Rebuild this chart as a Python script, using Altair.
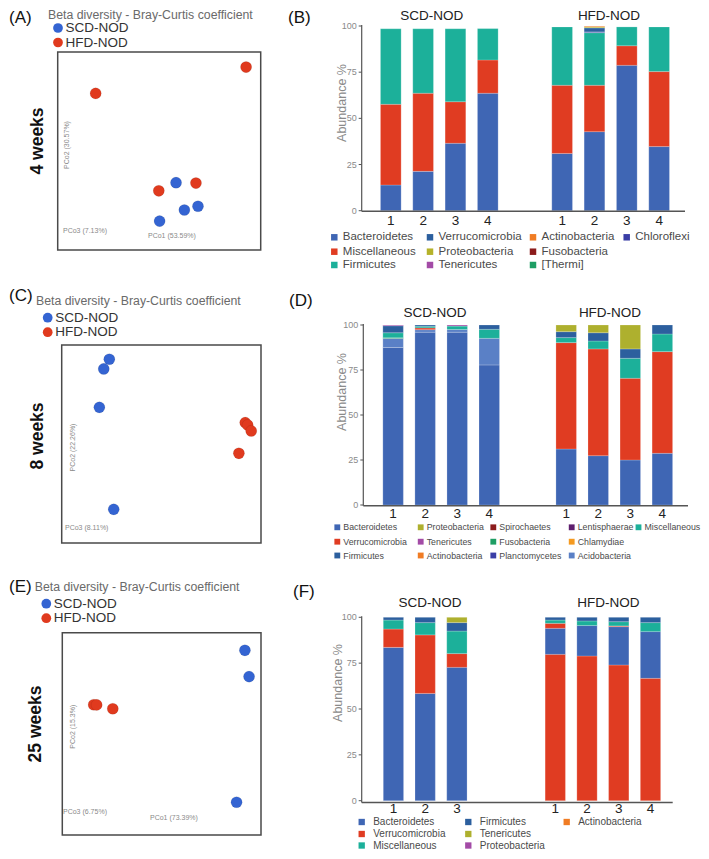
import altair as alt
import pandas as pd

FONT = "Liberation Sans"
M = 8  # page margin


def px(v):
    return v - M


DUMMY = alt.Data(values=[{"k": 0}])

# ---------------- data ----------------
GROUPS = ["SCD-NOD", "HFD-NOD"]
GROUP_COLORS = {"SCD-NOD": "#3464d2", "HFD-NOD": "#e03a1e"}

# PCoA coordinates (PCo1, PCo2), in % of the plotted box extent
A_GROUP = ["HFD-NOD", "HFD-NOD", "SCD-NOD", "HFD-NOD", "HFD-NOD", "SCD-NOD", "SCD-NOD", "SCD-NOD"]
A_PC1 = [18.7, 92.8, 58.3, 68.1, 49.8, 69.1, 62.4, 50.2]
A_PC2 = [79.1, 92.4, 34.0, 33.8, 29.9, 22.1, 20.2, 14.6]

C_GROUP = ["SCD-NOD", "SCD-NOD", "SCD-NOD", "HFD-NOD", "HFD-NOD", "HFD-NOD", "HFD-NOD", "SCD-NOD"]
C_PC1 = [23.9, 21.1, 18.9, 92.1, 93.3, 95.1, 88.9, 26.1]
C_PC2 = [92.8, 87.9, 68.5, 60.8, 59.6, 56.6, 45.3, 17.0]

E_GROUP = ["SCD-NOD", "SCD-NOD", "HFD-NOD", "HFD-NOD", "HFD-NOD", "SCD-NOD"]
E_PC1 = [91.9, 94.0, 15.8, 17.3, 25.4, 87.7]
E_PC2 = [91.3, 78.3, 64.4, 64.3, 62.4, 16.2]

# relative abundance (%) per sample, bottom -> top
B_SCD = [
    [("Bacteroidetes", 13.9), ("Miscellaneous", 43.7), ("Firmicutes", 40.9)],
    [("Bacteroidetes", 21.3), ("Miscellaneous", 42.3), ("Firmicutes", 34.9)],
    [("Bacteroidetes", 36.5), ("Miscellaneous", 22.5), ("Firmicutes", 39.5)],
    [("Bacteroidetes", 63.6), ("Miscellaneous", 18.0), ("Firmicutes", 17.0)],
]
B_HFD = [
    [("Bacteroidetes", 31.0), ("Miscellaneous", 36.9), ("Firmicutes", 31.6)],
    [("Bacteroidetes", 42.8), ("Miscellaneous", 25.1), ("Firmicutes", 28.5), ("Chloroflexi", 0.4),
     ("Verrucomicrobia", 2.2), ("Proteobacteria", 0.5), ("Actinobacteria", 0.4)],
    [("Bacteroidetes", 78.7), ("Miscellaneous", 10.6), ("Firmicutes", 10.2)],
    [("Bacteroidetes", 34.7), ("Miscellaneous", 40.6), ("Firmicutes", 24.2)],
]

D_SCD = [
    [("Bacteroidetes", 87.5), ("Acidobacteria", 5.0), ("Fusobacteria", 0.4), ("Miscellaneous", 2.8),
     ("Firmicutes", 3.9), ("Tenericutes", 0.4)],
    [("Bacteroidetes", 96.0), ("Acidobacteria", 1.4), ("Verrucomicrobia", 1.0), ("Miscellaneous", 0.9),
     ("Firmicutes", 0.7)],
    [("Bacteroidetes", 96.0), ("Acidobacteria", 1.5), ("Miscellaneous", 1.9), ("Tenericutes", 0.6)],
    [("Bacteroidetes", 77.8), ("Acidobacteria", 14.8), ("Miscellaneous", 5.0), ("Firmicutes", 2.4)],
]
D_HFD = [
    [("Bacteroidetes", 31.1), ("Verrucomicrobia", 59.1), ("Miscellaneous", 2.8), ("Firmicutes", 3.3),
     ("Proteobacteria", 3.7)],
    [("Bacteroidetes", 27.4), ("Verrucomicrobia", 59.3), ("Miscellaneous", 4.4), ("Firmicutes", 4.6),
     ("Proteobacteria", 4.3)],
    [("Bacteroidetes", 25.0), ("Verrucomicrobia", 45.4), ("Miscellaneous", 11.1), ("Firmicutes", 5.2),
     ("Proteobacteria", 13.3)],
    [("Bacteroidetes", 28.7), ("Verrucomicrobia", 56.5), ("Miscellaneous", 9.8), ("Firmicutes", 5.0)],
]

F_SCD = [
    [("Bacteroidetes", 83.6), ("Verrucomicrobia", 10.0), ("Miscellaneous", 4.9), ("Firmicutes", 1.5)],
    [("Bacteroidetes", 58.5), ("Verrucomicrobia", 31.9), ("Miscellaneous", 6.7), ("Firmicutes", 2.9)],
    [("Bacteroidetes", 72.7), ("Verrucomicrobia", 7.5), ("Miscellaneous", 12.3), ("Firmicutes", 4.6),
     ("Tenericutes", 2.9)],
]
F_HFD = [
    [("Verrucomicrobia", 79.8), ("Bacteroidetes", 14.2), ("Verrucomicrobia", 2.7), ("Miscellaneous", 1.8),
     ("Firmicutes", 1.5)],
    [("Verrucomicrobia", 78.9), ("Bacteroidetes", 16.6), ("Miscellaneous", 2.5), ("Firmicutes", 2.0)],
    [("Verrucomicrobia", 74.0), ("Bacteroidetes", 20.9), ("Verrucomicrobia", 0.4), ("Miscellaneous", 2.3),
     ("Firmicutes", 2.4)],
    [("Verrucomicrobia", 66.7), ("Bacteroidetes", 25.5), ("Miscellaneous", 4.9), ("Firmicutes", 2.9)],
]

SAMPLE_LABELS = ["1", "2", "3", "4"]

B_LEGEND = ["Bacteroidetes", "Miscellaneous", "Firmicutes", "Verrucomicrobia", "Proteobacteria",
            "Tenericutes", "Actinobacteria", "Fusobacteria", "[Thermi]", "Chloroflexi"]
D_LEGEND = ["Bacteroidetes", "Verrucomicrobia", "Firmicutes", "Proteobacteria", "Tenericutes",
            "Actinobacteria", "Spirochaetes", "Fusobacteria", "Planctomycetes", "Lentisphaerae",
            "Chlamydiae", "Acidobacteria", "Miscellaneous"]
F_LEGEND = ["Bacteroidetes", "Verrucomicrobia", "Miscellaneous", "Firmicutes", "Tenericutes",
            "Proteobacteria", "Actinobacteria"]

# ---------------- styles ----------------
B_COLORS = {"Bacteroidetes": "#3f66b4", "Miscellaneous": "#e03c22", "Firmicutes": "#1cb09a",
            "Verrucomicrobia": "#2c5f9e", "Proteobacteria": "#b5b22a", "Tenericutes": "#a34ba6",
            "Actinobacteria": "#f07c24", "Fusobacteria": "#8c1c1c", "[Thermi]": "#1e9e64",
            "Chloroflexi": "#3a3ea6"}
D_COLORS = {"Bacteroidetes": "#3f66b4", "Verrucomicrobia": "#e03c22", "Firmicutes": "#2c5f9e",
            "Proteobacteria": "#aeb02e", "Tenericutes": "#a34ba6", "Actinobacteria": "#f07c24",
            "Spirochaetes": "#8c1c1c", "Fusobacteria": "#1e9e64", "Planctomycetes": "#3a3ea6",
            "Lentisphaerae": "#5e1f6e", "Chlamydiae": "#f59a20", "Acidobacteria": "#5a80c6",
            "Miscellaneous": "#1cb09a"}
F_COLORS = {"Bacteroidetes": "#3f66b4", "Verrucomicrobia": "#e03c22", "Miscellaneous": "#1cb09a",
            "Firmicutes": "#2c5f9e", "Tenericutes": "#aeb02e", "Proteobacteria": "#a34ba6",
            "Actinobacteria": "#f07c24"}


def txt(x, y, s, size=12, color="#222", align="left", angle=None, weight="normal", font=FONT):
    kw = dict(text=s, fontSize=size, color=color, align=align, baseline="middle", font=font,
              fontWeight=weight)
    if angle is not None:
        kw["angle"] = angle
    return alt.Chart(DUMMY).mark_text(**kw).encode(x=alt.value(px(x)), y=alt.value(px(y)))


def scatter_panel(letter, letter_xy, title_xy, leg_xy, box, group, pc1, pc2, weeks_xy, weeks, pco_labels):
    layers = []
    layers.append(txt(letter_xy[0], letter_xy[1], letter, size=17, color="#111"))
    layers.append(txt(title_xy[0], title_xy[1], "Beta diversity - Bray-Curtis coefficient", size=12.3,
                      color="#6a6a6a"))
    # legend
    ldf = pd.DataFrame({"label": GROUPS})
    ldf["lx"] = px(leg_xy[0])
    ldf["ly"] = [px(leg_xy[1] + i * 14.5) for i in range(len(GROUPS))]
    ldf["tx"] = px(leg_xy[0] + 7.5)
    ldf["hex"] = ldf["label"].map(GROUP_COLORS)
    layers.append(alt.Chart(ldf).mark_circle(size=95, opacity=1).encode(
        x=alt.X("lx:Q", scale=None), y=alt.Y("ly:Q", scale=None), color=alt.Color("hex:N", scale=None)))
    layers.append(alt.Chart(ldf).mark_text(align="left", baseline="middle", fontSize=13.5, color="#333",
                                           font=FONT).encode(
        x=alt.X("tx:Q", scale=None), y=alt.Y("ly:Q", scale=None), text="label:N"))
    # frame
    layers.append(alt.Chart(DUMMY).mark_rect(fillOpacity=0, stroke="#4a4a4a", strokeWidth=1.5).encode(
        x=alt.value(px(box[0])), x2=alt.value(px(box[2])), y=alt.value(px(box[1])), y2=alt.value(px(box[3]))))
    # points
    df = pd.DataFrame({"group": group, "pc1": pc1, "pc2": pc2})
    df["hex"] = df["group"].map(GROUP_COLORS)
    xs = alt.Scale(domain=[0, 100], range=[px(box[0]), px(box[2])], nice=False, zero=False)
    ys = alt.Scale(domain=[0, 100], range=[px(box[3]), px(box[1])], nice=False, zero=False)
    layers.append(alt.Chart(df).mark_circle(size=125, opacity=1, stroke="#00000022", strokeWidth=0.6).encode(
        x=alt.X("pc1:Q", scale=xs, axis=None), y=alt.Y("pc2:Q", scale=ys, axis=None),
        color=alt.Color("hex:N", scale=None)))
    # in-plot axis labels
    for (x, y, s, rot) in pco_labels:
        if rot:
            layers.append(txt(x, y, s, size=7, color="#8a8a8a", align="center", angle=270))
        else:
            layers.append(txt(x, y, s, size=7, color="#8a8a8a"))
    layers.append(txt(weeks_xy[0], weeks_xy[1], weeks, size=17.5, color="#111", align="center", angle=270,
                      weight="bold"))
    return layers


def bar_panel(p):
    layers = []
    rows = []
    for g, samples, off in [("SCD", p["scd"], 0.0), ("HFD", p["hfd"], p["hfd_off"])]:
        for i, segs in enumerate(samples):
            for k, (ph, v) in enumerate(segs):
                rows.append(dict(sample=f"{g}{i + 1}", pos=i + 1 + off, phylum=ph, value=v, ord=k,
                                 hex=p["colors"][ph]))
    df = pd.DataFrame(rows)
    xs = alt.Scale(domain=p["xdom"], range=[px(p["axis_x"]), px(p["x_end"])], nice=False, zero=False)
    ys = alt.Scale(domain=[0, 100], range=[px(p["y_bot"]), px(p["y_top"])], nice=False, zero=False)
    bars = (
        alt.Chart(df)
        .transform_stack(as_=["y0", "y1"], stack="value", groupby=["sample"], sort=[alt.SortField("ord")])
        .transform_calculate(xl="datum.pos - 0.32", xr="datum.pos + 0.32")
        .mark_bar(stroke="#ffffff", strokeWidth=0.4, strokeOpacity=0.5)
        .encode(
            x=alt.X("xl:Q", scale=xs, axis=None), x2="xr:Q",
            y=alt.Y("y0:Q", scale=ys, axis=None), y2="y1:Q",
            color=alt.Color("hex:N", scale=None),
        )
    )
    layers.append(bars)
    # y axis line and ticks
    layers.append(alt.Chart(DUMMY).mark_rule(color="#555", strokeWidth=1.2).encode(
        x=alt.value(px(p["axis_x"])), y=alt.value(px(p["y_top"] - 1)), y2=alt.value(px(p["xline_y"]))))
    tdf = pd.DataFrame({"t": [0, 25, 50, 75, 100]})
    layers.append(alt.Chart(tdf).mark_rule(color="#555", strokeWidth=1).encode(
        x=alt.value(px(p["axis_x"] - 3)), x2=alt.value(px(p["axis_x"])),
        y=alt.Y("t:Q", scale=ys, axis=None)))
    layers.append(alt.Chart(tdf).mark_text(align="right", baseline="middle", fontSize=9, color="#8a8a8a",
                                           font=FONT).encode(
        x=alt.value(px(p["axis_x"] - 5)), y=alt.Y("t:Q", scale=ys, axis=None), text="t:Q"))
    # x axis line
    layers.append(alt.Chart(DUMMY).mark_rule(color="#555", strokeWidth=1.5).encode(
        x=alt.value(px(p["axis_x"])), x2=alt.value(px(p["x_end"])), y=alt.value(px(p["xline_y"]))))
    pos = [i + 1 for i in range(len(p["scd"]))] + [i + 1 + p["hfd_off"] for i in range(len(p["hfd"]))]
    labs = SAMPLE_LABELS[:len(p["scd"])] + SAMPLE_LABELS[:len(p["hfd"])]
    xdf = pd.DataFrame({"pos": pos, "lab": labs})
    layers.append(alt.Chart(xdf).mark_text(align="center", baseline="middle", fontSize=13.5, color="#222",
                                           font=FONT).encode(
        x=alt.X("pos:Q", scale=xs, axis=None), y=alt.value(px(p["xlab_y"])), text="lab:N"))
    # titles
    layers.append(txt(p["letter_xy"][0], p["letter_xy"][1], p["letter"], size=17, color="#111"))
    layers.append(txt(p["scd_title"][0], p["scd_title"][1], "SCD-NOD", size=13.5, color="#222", align="center"))
    layers.append(txt(p["hfd_title"][0], p["hfd_title"][1], "HFD-NOD", size=13.5, color="#222", align="center"))
    layers.append(txt(p["abund_xy"][0], p["abund_xy"][1], "Abundance %", size=12.5, color="#8a8a8a",
                      align="center", angle=270))
    # legend
    items = p["legend"]
    ldf = pd.DataFrame({"name": items})
    ldf["hex"] = ldf["name"].map(p["colors"])
    ldf["sx"] = [px(p["leg_cols"][i // 3]) for i in range(len(items))]
    ldf["tx"] = [px(p["leg_cols"][i // 3] + p["leg_dx"]) for i in range(len(items))]
    ldf["ly"] = [px(p["leg_rows"][i % 3]) for i in range(len(items))]
    layers.append(alt.Chart(ldf).mark_square(size=p["leg_sq"], opacity=1).encode(
        x=alt.X("sx:Q", scale=None), y=alt.Y("ly:Q", scale=None), color=alt.Color("hex:N", scale=None)))
    layers.append(alt.Chart(ldf).mark_text(align="left", baseline="middle", fontSize=p["leg_font"],
                                           color="#4a4a4a", font=FONT).encode(
        x=alt.X("tx:Q", scale=None), y=alt.Y("ly:Q", scale=None), text="name:N"))
    return layers


layers = []
layers += scatter_panel("(A)", (9, 18), (48, 14.5), (58, 28), (57.7, 52, 260.7, 250),
                        A_GROUP, A_PC1, A_PC2, (37.5, 141), "4 weeks",
                        [(66.7, 145, "PCo2 (30.57%)", True), (63, 231, "PCo3 (7.13%)", False),
                         (148, 236, "PCo1 (53.59%)", False)])
layers += scatter_panel("(C)", (9, 296), (36, 300.7), (47.7, 317.7), (61.7, 345, 261, 543),
                        C_GROUP, C_PC1, C_PC2, (37.5, 436), "8 weeks",
                        [(72.7, 447.5, "PCo2 (22.26%)", True), (65, 528.3, "PCo3 (8.11%)", False)])
layers += scatter_panel("(E)", (9, 586.7), (34.7, 587.3), (46.3, 603.7), (62.3, 632.7, 261, 835),
                        E_GROUP, E_PC1, E_PC2, (36, 724), "25 weeks",
                        [(73.3, 726.7, "PCo2 (15.3%)", True), (63, 812, "PCo3 (6.75%)", False),
                         (150, 818, "PCo1 (73.39%)", False)])

layers += bar_panel(dict(
    scd=B_SCD, hfd=B_HFD, colors=B_COLORS, hfd_off=5.3, xdom=[0.1, 10.1],
    axis_x=361.7, x_end=685, y_top=26, y_bot=210.7, xline_y=211.2, xlab_y=220.5,
    letter="(B)", letter_xy=(288, 18), scd_title=(431.7, 16), hfd_title=(609, 16), abund_xy=(341.7, 103),
    legend=B_LEGEND, leg_cols=[334.3, 430, 533, 626.7], leg_dx=8.5, leg_rows=[237.3, 251.7, 265],
    leg_font=11.5, leg_sq=42))
layers += bar_panel(dict(
    scd=D_SCD, hfd=D_HFD, colors=D_COLORS, hfd_off=5.4, xdom=[0.07, 10.2],
    axis_x=363.3, x_end=688, y_top=325, y_bot=505, xline_y=505.7, xlab_y=513.5,
    letter="(D)", letter_xy=(289, 300.7), scd_title=(435, 313.3), hfd_title=(610, 313.3), abund_xy=(341.7, 392),
    legend=D_LEGEND, leg_cols=[337.3, 420.7, 493.3, 571.7, 638.5], leg_dx=6, leg_rows=[527.3, 541.7, 555.5],
    leg_font=8.8, leg_sq=34))
layers += bar_panel(dict(
    scd=F_SCD, hfd=F_HFD, colors=F_COLORS, hfd_off=5.1, xdom=[0, 9.8],
    axis_x=361.7, x_end=672.7, y_top=617.3, y_bot=800.7, xline_y=802.5, xlab_y=809,
    letter="(F)", letter_xy=(293, 591.7), scd_title=(430, 603.3), hfd_title=(608.3, 603.3), abund_xy=(338.3, 683),
    legend=F_LEGEND, leg_cols=[361.7, 468.3, 566.7], leg_dx=11.5, leg_rows=[822, 834, 845.5],
    leg_font=10, leg_sq=40))

chart = (
    alt.layer(*layers)
    .resolve_scale(x="independent", y="independent")
    .properties(width=693, height=843, autosize=alt.AutoSizeParams(type="none"), padding=0,
                background="white")
    .configure_view(stroke=None)
)

chart.save("out.html", embed_options={"renderer": "svg", "actions": False})
